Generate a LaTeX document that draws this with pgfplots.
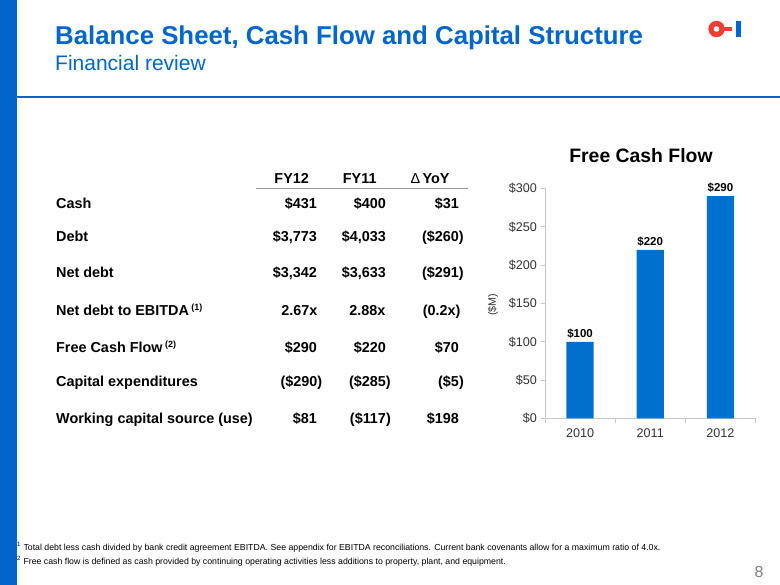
\documentclass[border=0pt]{standalone}
\usepackage{pgfplots}
\pgfplotsset{compat=1.18}
\usepackage{fontspec}
\setmainfont{Liberation Sans}
\definecolor{oiblue}{RGB}{0,102,204}
\definecolor{barblue}{RGB}{0,112,206}
\definecolor{oired}{RGB}{240,62,52}
\definecolor{axgray}{RGB}{200,200,200}
\definecolor{txtgray}{RGB}{51,51,51}
\definecolor{rulegray}{RGB}{150,150,150}
\newcommand\tabfont{\fontsize{14.4}{17}\selectfont\bfseries}
\begin{document}
\begin{tikzpicture}
\begin{scope}[x=1pt,y=1pt]
\path[fill=white] (0,0) rectangle (780,-585);
\fill[oiblue] (0,0) rectangle (17,-585);
\fill[oiblue] (17,-96.5) rectangle (780,-98.5);
% titles
\node[anchor=base west,inner sep=0,text=oiblue,font=\fontsize{25.8}{30}\selectfont\bfseries] at (55,-44.5) {Balance Sheet, Cash Flow and Capital Structure};
\node[anchor=base west,inner sep=0,text=oiblue,font=\fontsize{21}{25}\selectfont] at (55,-71) {Financial review};
% logo
\fill[oired] (716.5,-29) circle (8.2);
\fill[white] (716.5,-29) circle (2.8);
\fill[oired] (723.5,-27.5) rectangle (731.5,-31);
\fill[oiblue] (735.7,-20.8) rectangle (741,-37.2);
% table
\begin{scope}[font=\tabfont, every node/.style={inner sep=0}]
\node[anchor=base] at (291.7,-184) {FY12};
\node[anchor=base] at (359.7,-184) {FY11};
\node[anchor=base] at (430,-184) {{\mdseries Δ}\,YoY};
\draw[rulegray,line width=1pt] (256,-188.5) -- (468,-188.5);
% labels
\node[anchor=base west] at (56,-209) {Cash};
\node[anchor=base west] at (56,-242) {Debt};
\node[anchor=base west] at (56,-278) {Net debt};
\node[anchor=base west] at (56,-316) {Net debt to EBITDA\,\textsuperscript{\fontsize{9}{10}\selectfont(1)}};
\node[anchor=base west] at (56,-352.5) {Free Cash Flow\,\textsuperscript{\fontsize{9}{10}\selectfont(2)}};
\node[anchor=base west] at (56,-387) {Capital expenditures};
\node[anchor=base west] at (56,-424) {Working capital source (use)};
% FY12
\node[anchor=base east] at (317,-209) {\$431};
\node[anchor=base east] at (317,-242) {\$3,773};
\node[anchor=base east] at (317,-278) {\$3,342};
\node[anchor=base east] at (317.5,-316) {2.67x};
\node[anchor=base east] at (317,-352.5) {\$290};
\node[anchor=base east] at (322.5,-387) {(\$290)};
\node[anchor=base east] at (317,-424) {\$81};
% FY11
\node[anchor=base east] at (386,-209) {\$400};
\node[anchor=base east] at (386,-242) {\$4,033};
\node[anchor=base east] at (386,-278) {\$3,633};
\node[anchor=base east] at (385.7,-316) {2.88x};
\node[anchor=base east] at (386,-352.5) {\$220};
\node[anchor=base east] at (391,-387) {(\$285)};
\node[anchor=base east] at (391,-424) {(\$117)};
% YoY
\node[anchor=base east] at (459,-209) {\$31};
\node[anchor=base east] at (464,-242) {(\$260)};
\node[anchor=base east] at (464,-278) {(\$291)};
\node[anchor=base east] at (460.7,-316) {(0.2x)};
\node[anchor=base east] at (459,-352.5) {\$70};
\node[anchor=base east] at (464,-387) {(\$5)};
\node[anchor=base east] at (459,-424) {\$198};
\end{scope}
% chart title and unit label
\node[anchor=base,inner sep=0,font=\fontsize{19.4}{22}\selectfont\bfseries] at (641,-163) {Free Cash Flow};
\node[rotate=90,inner sep=0,font=\fontsize{10.7}{12}\selectfont,text=txtgray] at (493,-305) {(\$M)};
% footnotes
\node[anchor=base west,inner sep=0,font=\fontsize{8.75}{10}\selectfont] at (17,-550.7) {\textsuperscript{1} Total debt less cash divided by bank credit agreement EBITDA. See appendix for EBITDA reconciliations. Current bank covenants allow for a maximum ratio of 4.0x.};
\node[anchor=base west,inner sep=0,font=\fontsize{8.75}{10}\selectfont] at (17,-564.5) {\textsuperscript{2} Free cash flow is defined as cash provided by continuing operating activities less additions to property, plant, and equipment.};
\node[anchor=base,inner sep=0,font=\fontsize{16}{18}\selectfont,text=gray] at (759,-577) {8};
\end{scope}
\begin{axis}[
  at={(545pt,-418.5pt)}, anchor=south west,
  scale only axis, width=210.5pt, height=230pt,
  xmin=-0.5, xmax=2.5, ymin=0, ymax=300,
  axis x line*=bottom, axis y line*=left,
  axis line style={draw=axgray,line width=0.8pt,-},
  tick align=outside, major tick length=4.5pt,
  tick style={draw=axgray,line width=0.8pt},
  ytick={0,50,100,150,200,250,300},
  yticklabels={\$0,\$50,\$100,\$150,\$200,\$250,\$300},
  xtick={-0.5,0.5,1.5,2.5}, xticklabels={},
  extra x ticks={0,1,2}, extra x tick labels={2010,2011,2012},
  extra x tick style={major tick length=0pt},
  ticklabel style={font=\fontsize{12.6}{14}\selectfont,text=txtgray},
  xticklabel style={yshift=-7pt},
  clip=false,
]
\addplot[ybar, bar width=27.3pt, fill=barblue, draw=none,
  point meta=explicit symbolic,
  nodes near coords,
  nodes near coords style={font=\fontsize{11.5}{13}\selectfont\bfseries,text=black}]
  coordinates {(0,100) [\$100] (1,220) [\$220] (2,290) [\$290]};
\end{axis}
\end{tikzpicture}
\end{document}
